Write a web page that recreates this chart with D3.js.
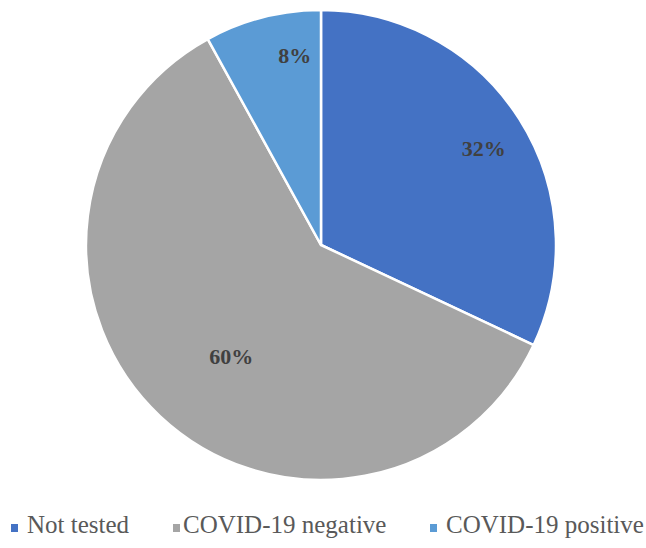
<!DOCTYPE html>
<html><head><meta charset="utf-8">
<script src="https://cdn.jsdelivr.net/npm/d3@7"></script>
<style>body{margin:0;background:#fff}svg{display:block}</style>
</head><body>
<svg id="c" width="646" height="548"></svg>
<script>
const categories = ["Not tested", "COVID-19 negative", "COVID-19 positive"];
const values = [32, 60, 8];
const labels = ["32%", "60%", "8%"];
const colors = ["#4472C4", "#A5A5A5", "#5B9BD5"];

// layout (not data)
const labelRadiusFactor = [0.8, 0.62, 0.81];
const labelNudge = [[4, 4], [10, 5], [21, -5]];
const legendMarkerX = [11, 173, 430];
const legendTextX = [27, 183, 446];

const svg = d3.select("#c");
const cx = 321, cy = 245, r = 235;
const g = svg.append("g").attr("transform", `translate(${cx},${cy})`);
const data = categories.map((c, i) => ({c, v: values[i], l: labels[i], col: colors[i], f: labelRadiusFactor[i], n: labelNudge[i], mx: legendMarkerX[i], tx: legendTextX[i]}));
const pie = d3.pie().value(d => d.v).sort(null);
const arc = d3.arc().innerRadius(0).outerRadius(r);
const arcs = pie(data);
g.selectAll("path").data(arcs).join("path")
  .attr("d", arc).attr("fill", d => d.data.col)
  .attr("stroke", "#fff").attr("stroke-width", 2.5).attr("stroke-linejoin", "round");
g.selectAll("text").data(arcs).join("text")
  .attr("transform", d => {
    const a = d3.arc().innerRadius(r * d.data.f).outerRadius(r * d.data.f);
    const [x, y] = a.centroid(d);
    return `translate(${x + d.data.n[0]},${y + d.data.n[1]})`;
  })
  .attr("text-anchor", "middle").attr("dy", "0.35em")
  .attr("font-family", "'Liberation Serif', 'Times New Roman', serif")
  .attr("font-weight", "bold").attr("font-size", 22).attr("fill", "#404040")
  .text(d => d.data.l);

const legend = svg.append("g");
const items = legend.selectAll("g").data(data).join("g");
items.append("rect").attr("x", d => d.mx).attr("y", 524).attr("width", 7).attr("height", 8).attr("fill", d => d.col);
items.append("text").attr("x", d => d.tx).attr("y", 533)
  .attr("font-family", "'Liberation Serif', 'Times New Roman', serif")
  .attr("font-size", 25).attr("fill", "#595959").text(d => d.c);
</script>
</body></html>
